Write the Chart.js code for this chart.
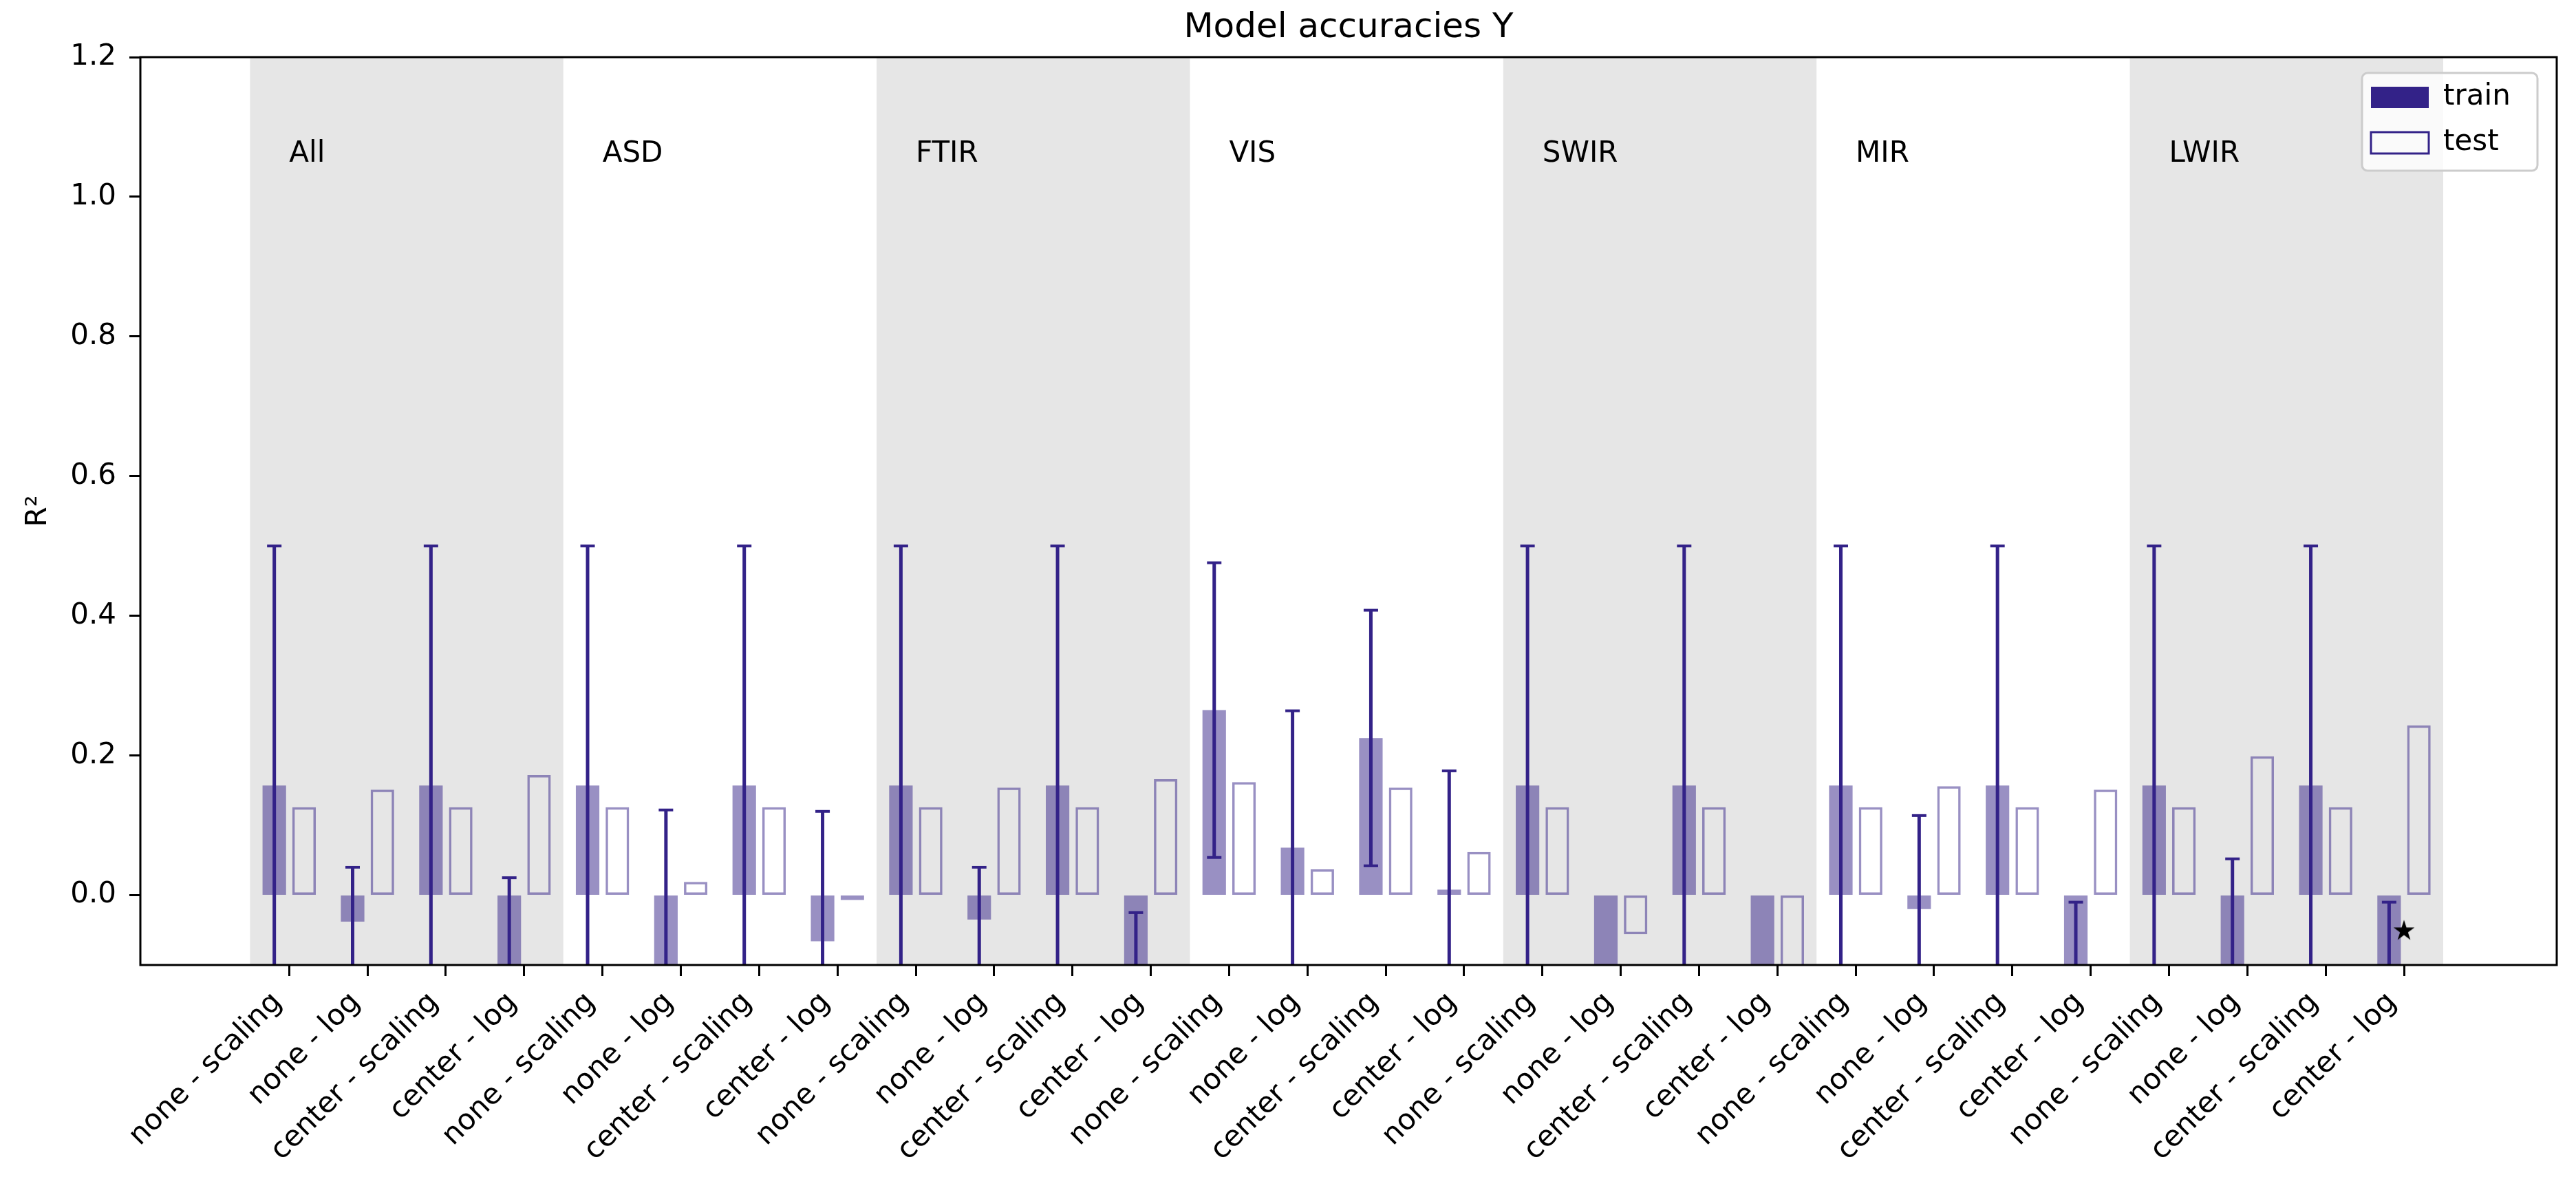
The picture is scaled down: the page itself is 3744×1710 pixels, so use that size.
<!DOCTYPE html>
<html>
<head>
<meta charset="utf-8">
<script src="https://cdn.jsdelivr.net/npm/chart.js@4.4.1/dist/chart.umd.min.js"></script>
<style>
html,body{margin:0;padding:0;background:#ffffff;overflow:hidden}
#wrap{width:3744px;height:1710px;position:relative}
</style>
</head>
<body>
<div id="wrap"><canvas id="c"></canvas></div>
<script>
// ---------------- data ----------------
const groups = ['All', 'ASD', 'FTIR', 'VIS', 'SWIR', 'MIR', 'LWIR'];
const preprocessing = ['none - scaling', 'none - log', 'center - scaling', 'center - log'];
const categories = groups.flatMap(() => preprocessing);
const seriesNames = ['train', 'test'];
const chartTitle = 'Model accuracies Y';
const yAxisTitle = 'R²';

// train R² (bars), per category
const trainR2 = [
  0.157, -0.038, 0.157, -0.35,
  0.157, -0.25, 0.157, -0.066,
  0.157, -0.035, 0.157, -0.30,
  0.265, 0.068, 0.225, 0.008,
  0.157, -0.60, 0.157, -0.70,
  0.157, -0.020, 0.157, -0.25,
  0.157, -0.30, 0.157, -0.20
];
// test R² (outlined bars)
const testR2 = [
  0.126, 0.151, 0.126, 0.172,
  0.126, 0.019, 0.126, -0.007,
  0.126, 0.154, 0.126, 0.166,
  0.162, 0.037, 0.154, 0.062,
  0.126, -0.056, 0.126, -0.30,
  0.126, 0.156, 0.126, 0.151,
  0.126, 0.199, 0.126, 0.243
];
// error (half width) on the train R²
const trainErr = [
  0.343, 0.078, 0.343, 0.375,
  0.343, 0.372, 0.343, 0.186,
  0.343, 0.075, 0.343, 0.275,
  0.211, 0.196, 0.183, 0.170,
  0.343, 0.30, 0.343, 0.35,
  0.343, 0.134, 0.343, 0.24,
  0.343, 0.352, 0.343, 0.19
];
// best model marker
const bestIndex = [27];
const bestMarkerY = [-0.05];

const yTicks = [0.0, 0.2, 0.4, 0.6, 0.8, 1.0, 1.2];
const yRange = [-0.1, 1.2];
const xRange = [-1.9, 28.95];
const groupLabelY = 1.05;

// ---------------- style ----------------
const INDIGO = '#332288';
const INDIGO_A = 'rgba(51,34,136,0.5)';
const BAND = '#e6e6e6';
const FONT = "'DejaVu Sans', sans-serif";
const CATEGORY_PCT = 0.76;
const BAR_PCT = 0.79;
const TRAIN_SHIFT = -CATEGORY_PCT / 4;
const perGroup = preprocessing.length;

Chart.defaults.font.family = FONT;
Chart.defaults.color = '#000';

function starImage(size) {
  const c = document.createElement('canvas');
  c.width = size; c.height = size;
  const g = c.getContext('2d');
  g.beginPath();
  for (let k = 0; k < 10; k++) {
    const r = (k % 2) ? size * 0.19 : size * 0.5;
    const a = -Math.PI / 2 + k * Math.PI / 5;
    g.lineTo(size / 2 + r * Math.cos(a), size / 2 + r * Math.sin(a) + size * 0.04);
  }
  g.closePath();
  g.fillStyle = '#000';
  g.fill();
  return c;
}

const trainData = trainR2.map((v, i) => ({x: i, y: v}));
const testData = testR2.map((v, i) => ({x: i, y: v}));
const stemData = [];
const capData = [];
trainR2.forEach((v, i) => {
  const x = i + TRAIN_SHIFT;
  stemData.push({x, y: v - trainErr[i]}, {x, y: v + trainErr[i]}, {x, y: null});
  capData.push({x, y: v - trainErr[i]}, {x, y: v + trainErr[i]});
});
const starData = bestIndex.map((idx, k) => ({x: idx, y: bestMarkerY[k]}));

const decor = {
  id: 'decor',
  afterLayout(chart) {
    const lg = chart.legend, ca = chart.chartArea;
    const fr = {w: 255, h: 142};
    fr.left = ca.right - 28 - fr.w;
    fr.top = ca.top + 23;
    chart.$frame = fr;
    if (lg) {
      const w = lg.width, h = lg.height;
      lg.left = fr.left + 13 - 24;
      lg.top = fr.top + 20 - 24 - 5.5;
      lg.right = lg.left + w;
      lg.bottom = lg.top + h;
    }
  },
  beforeDraw(chart) {
    const {ctx, chartArea: ca, scales: {x}} = chart;
    ctx.save();
    ctx.beginPath();
    ctx.rect(ca.left, ca.top, ca.right - ca.left, ca.bottom - ca.top);
    ctx.clip();
    ctx.fillStyle = BAND;
    groups.forEach((g, k) => {
      if (k % 2) return;
      const x0 = x.getPixelForValue(k * perGroup - 0.5);
      const x1 = x.getPixelForValue(k * perGroup + perGroup - 0.5);
      ctx.fillRect(x0, ca.top, x1 - x0, ca.bottom - ca.top);
    });
    const fr = chart.$frame;
    ctx.beginPath();
    ctx.roundRect(fr.left, fr.top, fr.w, fr.h, 8);
    ctx.fillStyle = 'rgba(255,255,255,0.8)';
    ctx.fill();
    ctx.lineWidth = 3;
    ctx.strokeStyle = '#cccccc';
    ctx.stroke();
    ctx.restore();
  },
  afterDatasetsDraw(chart) {
    const {ctx, scales: {x, y}} = chart;
    ctx.save();
    ctx.font = "42px " + FONT;
    ctx.fillStyle = '#000';
    ctx.textAlign = 'left';
    ctx.textBaseline = 'alphabetic';
    groups.forEach((g, k) => {
      ctx.fillText(g, x.getPixelForValue(k * perGroup), y.getPixelForValue(groupLabelY));
    });
    ctx.restore();
  },
  afterDraw(chart) {
    const {ctx, chartArea: ca} = chart;
    ctx.save();
    ctx.lineWidth = 3;
    ctx.strokeStyle = '#000';
    ctx.strokeRect(ca.left, ca.top, ca.right - ca.left, ca.bottom - ca.top);
    ctx.restore();
  }
};

new Chart(document.getElementById('c'), {
  type: 'bar',
  data: {
    datasets: [
      {label: seriesNames[0], data: trainData, backgroundColor: INDIGO_A, borderWidth: 0,
       categoryPercentage: CATEGORY_PCT, barPercentage: BAR_PCT, clip: 0, order: 2},
      {label: seriesNames[1], data: testData, backgroundColor: 'rgba(255,255,255,0)', borderColor: INDIGO_A,
       borderWidth: 3.5, borderSkipped: false, categoryPercentage: CATEGORY_PCT, barPercentage: BAR_PCT, clip: 0, order: 3},
      {type: 'line', label: 'err', data: stemData, borderColor: INDIGO, borderWidth: 5, pointRadius: 0,
       spanGaps: false, tension: 0, clip: 0, order: 1},
      {type: 'line', label: 'caps', data: capData, showLine: false, pointStyle: 'line', pointRadius: 10.5,
       pointBorderWidth: 4, pointBorderColor: INDIGO, pointBackgroundColor: INDIGO, clip: 0, order: 1},
      {type: 'line', label: 'best', data: starData, showLine: false, pointStyle: starImage(32), pointRadius: 15,
       clip: 0, order: 0}
    ]
  },
  options: {
    responsive: true,
    maintainAspectRatio: false,
    animation: false,
    events: [],
    layout: {padding: {left: 0, right: 28, top: 0, bottom: 0}},
    scales: {
      x: {
        type: 'linear', min: xRange[0], max: xRange[1], offset: false,
        grid: {display: true, drawOnChartArea: false, drawTicks: true, tickLength: 16, tickWidth: 3, tickColor: '#000', offset: false},
        border: {display: false},
        afterBuildTicks: (s) => { s.ticks = categories.map((_, i) => ({value: i})); },
        afterFit: (s) => { s.height = 1710 - 1402; s.paddingLeft = 0; s.paddingRight = 0; },
        ticks: {
          autoSkip: false, minRotation: 45, maxRotation: 45, padding: 14, labelOffset: -17,
          font: {size: 42}, color: '#000',
          callback: (v) => categories[v]
        }
      },
      y: {
        type: 'linear', min: yRange[0], max: yRange[1],
        grid: {display: true, drawOnChartArea: false, drawTicks: true, tickLength: 16, tickWidth: 3, tickColor: '#000'},
        border: {display: false},
        afterBuildTicks: (s) => { s.ticks = yTicks.map(v => ({value: v})); },
        afterFit: (s) => { s.width = 204; },
        ticks: {padding: 19, font: {size: 42}, color: '#000', callback: (v) => Number(v).toFixed(1)},
        title: {display: true, text: yAxisTitle, font: {size: 42}, color: '#000', padding: {top: 31, bottom: 0}}
      }
    },
    plugins: {
      title: {display: true, text: chartTitle, fullSize: false, color: '#000',
              font: {size: 50, weight: 'normal'}, padding: {top: 11, bottom: 12}},
      legend: {
        display: true, position: 'chartArea', align: 'start',
        labels: {
          boxWidth: 84, boxHeight: 31, padding: 24, color: '#000', font: {size: 42},
          generateLabels: () => [
            {text: seriesNames[0], fillStyle: INDIGO, strokeStyle: INDIGO, lineWidth: 0, hidden: false, datasetIndex: 0, fontColor: '#000'},
            {text: seriesNames[1], fillStyle: 'rgba(255,255,255,0)', strokeStyle: INDIGO, lineWidth: 3, hidden: false, datasetIndex: 1, fontColor: '#000'}
          ]
        }
      },
      tooltip: {enabled: false}
    }
  },
  plugins: [decor]
});
</script>
</body>
</html>
